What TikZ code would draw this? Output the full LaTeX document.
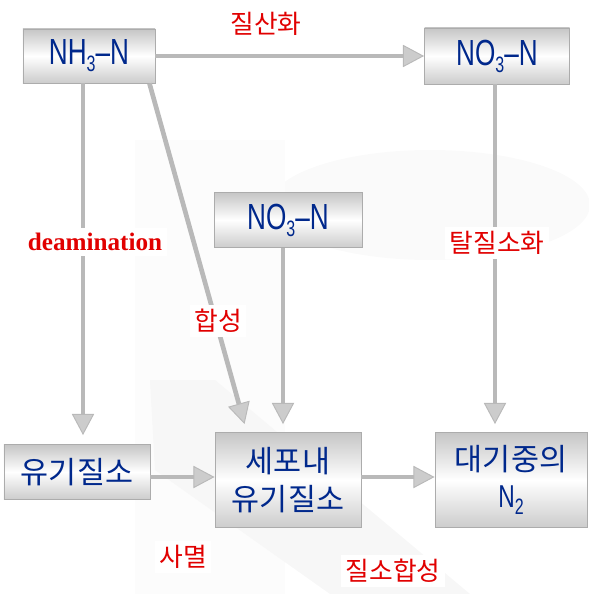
\documentclass[tikz,border=0pt]{standalone}
\usepackage{fontspec}
\setmainfont{Noto Sans CJK KR}
\newfontfamily\latfont[FakeStretch=0.72]{Liberation Sans}
\newfontfamily\romfont{Liberation Serif}
\usetikzlibrary{arrows.meta, calc}

\begin{document}
\begin{tikzpicture}[x=0.03cm, y=-0.03cm,
  box/.style={rectangle, top color=gray!45, bottom color=gray!40, middle color=white,
    draw=gray!65, line width=0.8pt, text=boxblue, align=center, inner sep=0pt,
    font=\boxfont},
  flow/.style={draw=gray!55, line width=4pt,
    -{Triangle[length=18pt, width=19pt, fill=gray!40, line width=0.8pt]}},
  tag/.style={fill=white, text=tagred, inner sep=4pt, font=\tagfont}]

% Define colors
\definecolor{boxblue}{RGB}{0,40,140}
\definecolor{tagred}{RGB}{225,0,0}

% Define fonts
\def\boxfont{\fontsize{26pt}{32pt}\selectfont}
\def\chemfont{\latfont\fontsize{31pt}{32pt}\selectfont}
\def\tagfont{\fontsize{22pt}{24pt}\selectfont}
\def\lowidx#1{\raisebox{-6pt}{\fontsize{19pt}{19pt}\selectfont #1}}

\useasboundingbox (0,0) rectangle (588,594);

% Draw faint background shapes
\fill[gray!4] (430,205) ellipse (160 and 55);
\fill[gray!2] (135,140) rectangle (285,594);
\fill[gray!6] (150,380) -- (215,380) -- (470,594) -- (330,594) -- (155,470) -- cycle;

% Draw the boxes
\node[box, minimum width=3.96cm, minimum height=1.62cm] (nh3) at (89,56)
  {\chemfont NH\lowidx{3}–N};
\node[box, minimum width=4.35cm, minimum height=1.68cm] (no3a) at (497,56)
  {\chemfont NO\lowidx{3}–N};
\node[box, minimum width=4.44cm, minimum height=1.65cm] (no3b) at (288,220)
  {\chemfont NO\lowidx{3}–N};
\node[box, minimum width=4.38cm, minimum height=1.65cm] (org) at (77,472)
  {유기질소};
\node[box, minimum width=4.38cm, minimum height=2.85cm] (cell) at (288,480)
  {세포내\\유기질소};
\node[box, minimum width=4.56cm, minimum height=2.85cm] (air) at (511,480)
  {대기중의\\{\latfont\fontsize{27pt}{32pt}\selectfont N\lowidx{2}}};

% Draw the arrows
\draw[flow] (nh3.east) -- (no3a.west);
\draw[flow] ($(nh3.south)+(-6,0)$) -- ($(org.north)+(6,-9)$);
\draw[flow] ($(nh3.south east)+(-6,0)$) -- ($(cell.north west)+(30,-8)$);
\draw[flow] ($(no3b.south)+(-5,0)$) -- ($(cell.north)+(-5,-8)$);
\draw[flow] ($(no3a.south)+(-2,0)$) -- ($(air.north)+(-16,-8)$);
\draw[flow] ($(org.east)+(0,5)$) -- ($(cell.west)+(0,-3)$);
\draw[flow] ($(cell.east)+(0,-3)$) -- ($(air.west)+(0,-3)$);

% Draw the labels
\node[tag] (nitrif) at (266,24) {질산화};
\node[tag, font=\romfont\bfseries\fontsize{21.5pt}{24pt}\selectfont] (deam) at (95,242) {deamination};
\node[tag] (denit) at (497,243) {탈질소화};
\node[tag] (synth) at (218,321) {합성};
\node[tag] (death) at (183,557) {사멸};
\node[tag] (fix) at (393,571) {질소합성};

\end{tikzpicture}
\end{document}
